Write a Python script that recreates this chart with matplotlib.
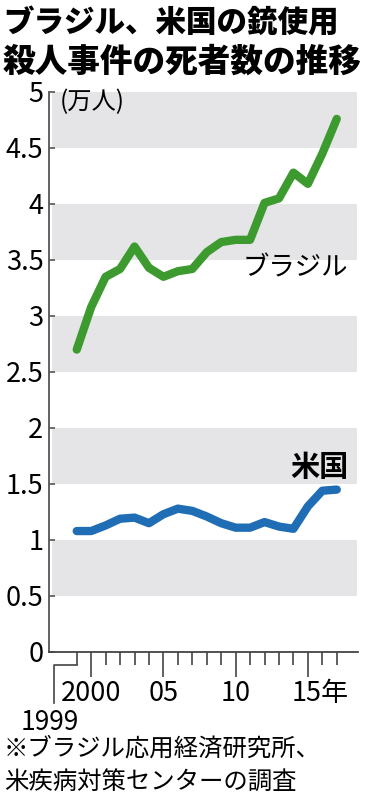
import matplotlib
matplotlib.use("Agg")
import matplotlib.pyplot as plt
from matplotlib.transforms import ScaledTranslation, blended_transform_factory

plt.rcParams['font.family'] = ['Noto Sans CJK JP', 'DejaVu Sans']

# data (万人)
years = list(range(1999, 2018))
brazil = [2.70, 3.08, 3.35, 3.42, 3.62, 3.43, 3.35, 3.40, 3.42, 3.57,
          3.66, 3.68, 3.68, 4.01, 4.05, 4.28, 4.18, 4.45, 4.76]
usa = [1.08, 1.08, 1.13, 1.19, 1.20, 1.15, 1.23, 1.28, 1.26, 1.21,
       1.15, 1.11, 1.11, 1.16, 1.12, 1.10, 1.30, 1.44, 1.45]
yticks = [0, 0.5, 1, 1.5, 2, 2.5, 3, 3.5, 4, 4.5, 5]
ytick_labels = ['0', '0.5', '1', '1.5', '2', '2.5', '3', '3.5', '4', '4.5', '5']
xmajor = [2000, 2005, 2010, 2015]
xmajor_labels = ['2000', '05', '10', '15年']

W, H = 368, 798
fig = plt.figure(figsize=(W / 100, H / 100), dpi=100)

def px(x, y):
    return x / W, 1 - y / H

ax = fig.add_axes([49 / W, 1 - 652 / H, (358 - 49) / W, (652 - 92) / H])
ax.set_xlim(1997.08, 2018.47)
ax.set_ylim(0, 5)

# gray bands
for lo in [0.5, 1.5, 2.5, 3.5, 4.5]:
    ax.axhspan(lo, lo + 0.5, xmin=0.01, xmax=0.997, color='#e5e5e7', lw=0, zorder=0)

green = '#3c9a2e'
blue = '#1f6db5'
ax.plot(years, brazil, color=green, lw=6, solid_capstyle='round', solid_joinstyle='round', zorder=3)
ax.plot(years, usa, color=blue, lw=6, solid_capstyle='round', solid_joinstyle='round', zorder=3)

for s in ['top', 'right']:
    ax.spines[s].set_visible(False)
ax.spines['left'].set_color('#555555')
ax.spines['bottom'].set_color('#444444')
ax.spines['left'].set_linewidth(1.3)
ax.spines['bottom'].set_linewidth(1.3)

ax.set_yticks(yticks)
ax.set_yticklabels(ytick_labels)
ax.tick_params(axis='y', direction='in', length=4, width=1.2, color='#555555',
               labelsize=19.5, pad=4)

ax.set_xticks(xmajor)
ax.set_xticklabels(xmajor_labels)
ax.set_xticks([y for y in years if y not in xmajor], minor=True)
ax.tick_params(axis='x', which='major', direction='out', length=18, width=1.2,
               color='#444444', labelsize=19.5, pad=2)
ax.tick_params(axis='x', which='minor', direction='out', length=9.4, width=1.2,
               color='#444444')
# keep "15" centred on its tick, with 年 trailing
lab = ax.get_xticklabels()[-1]
lab.set_transform(lab.get_transform() + ScaledTranslation(12 / 100, 0, fig.dpi_scale_trans))

# leader line for 1999
tr = blended_transform_factory(ax.transData, ax.transAxes)
ax.plot([1999, 1999, 1997.43, 1997.43], [-0.0232, -0.0232, -0.0232, -0.091],
        transform=tr, color='#444444', lw=1.2, clip_on=False)
fig.text(*px(49.5, 723), '1999', fontsize=19, ha='center', va='center')

# labels inside plot
ax.text(1997.84, 4.91, '(万人)', fontsize=17.5, ha='left', va='center')
ax.text(2010.5, 3.43, 'ブラジル', fontsize=19, ha='left', va='center')
ax.text(2013.8, 1.65, '米国', fontsize=21, fontweight='bold', ha='left', va='center')

# title
fig.text(*px(3, 22), 'ブラジル、米国の銃使用', fontsize=22, fontweight='heavy', ha='left', va='center')
fig.text(*px(3, 62), '殺人事件の死者数の推移', fontsize=23.5, fontweight='heavy', ha='left', va='center')

# source note
fig.text(*px(4, 749), '※ブラジル応用経済研究所、', fontsize=17.6, ha='left', va='center')
fig.text(*px(4, 782), '米疾病対策センターの調査', fontsize=17.6, ha='left', va='center')

fig.savefig('out.png', dpi=100)
